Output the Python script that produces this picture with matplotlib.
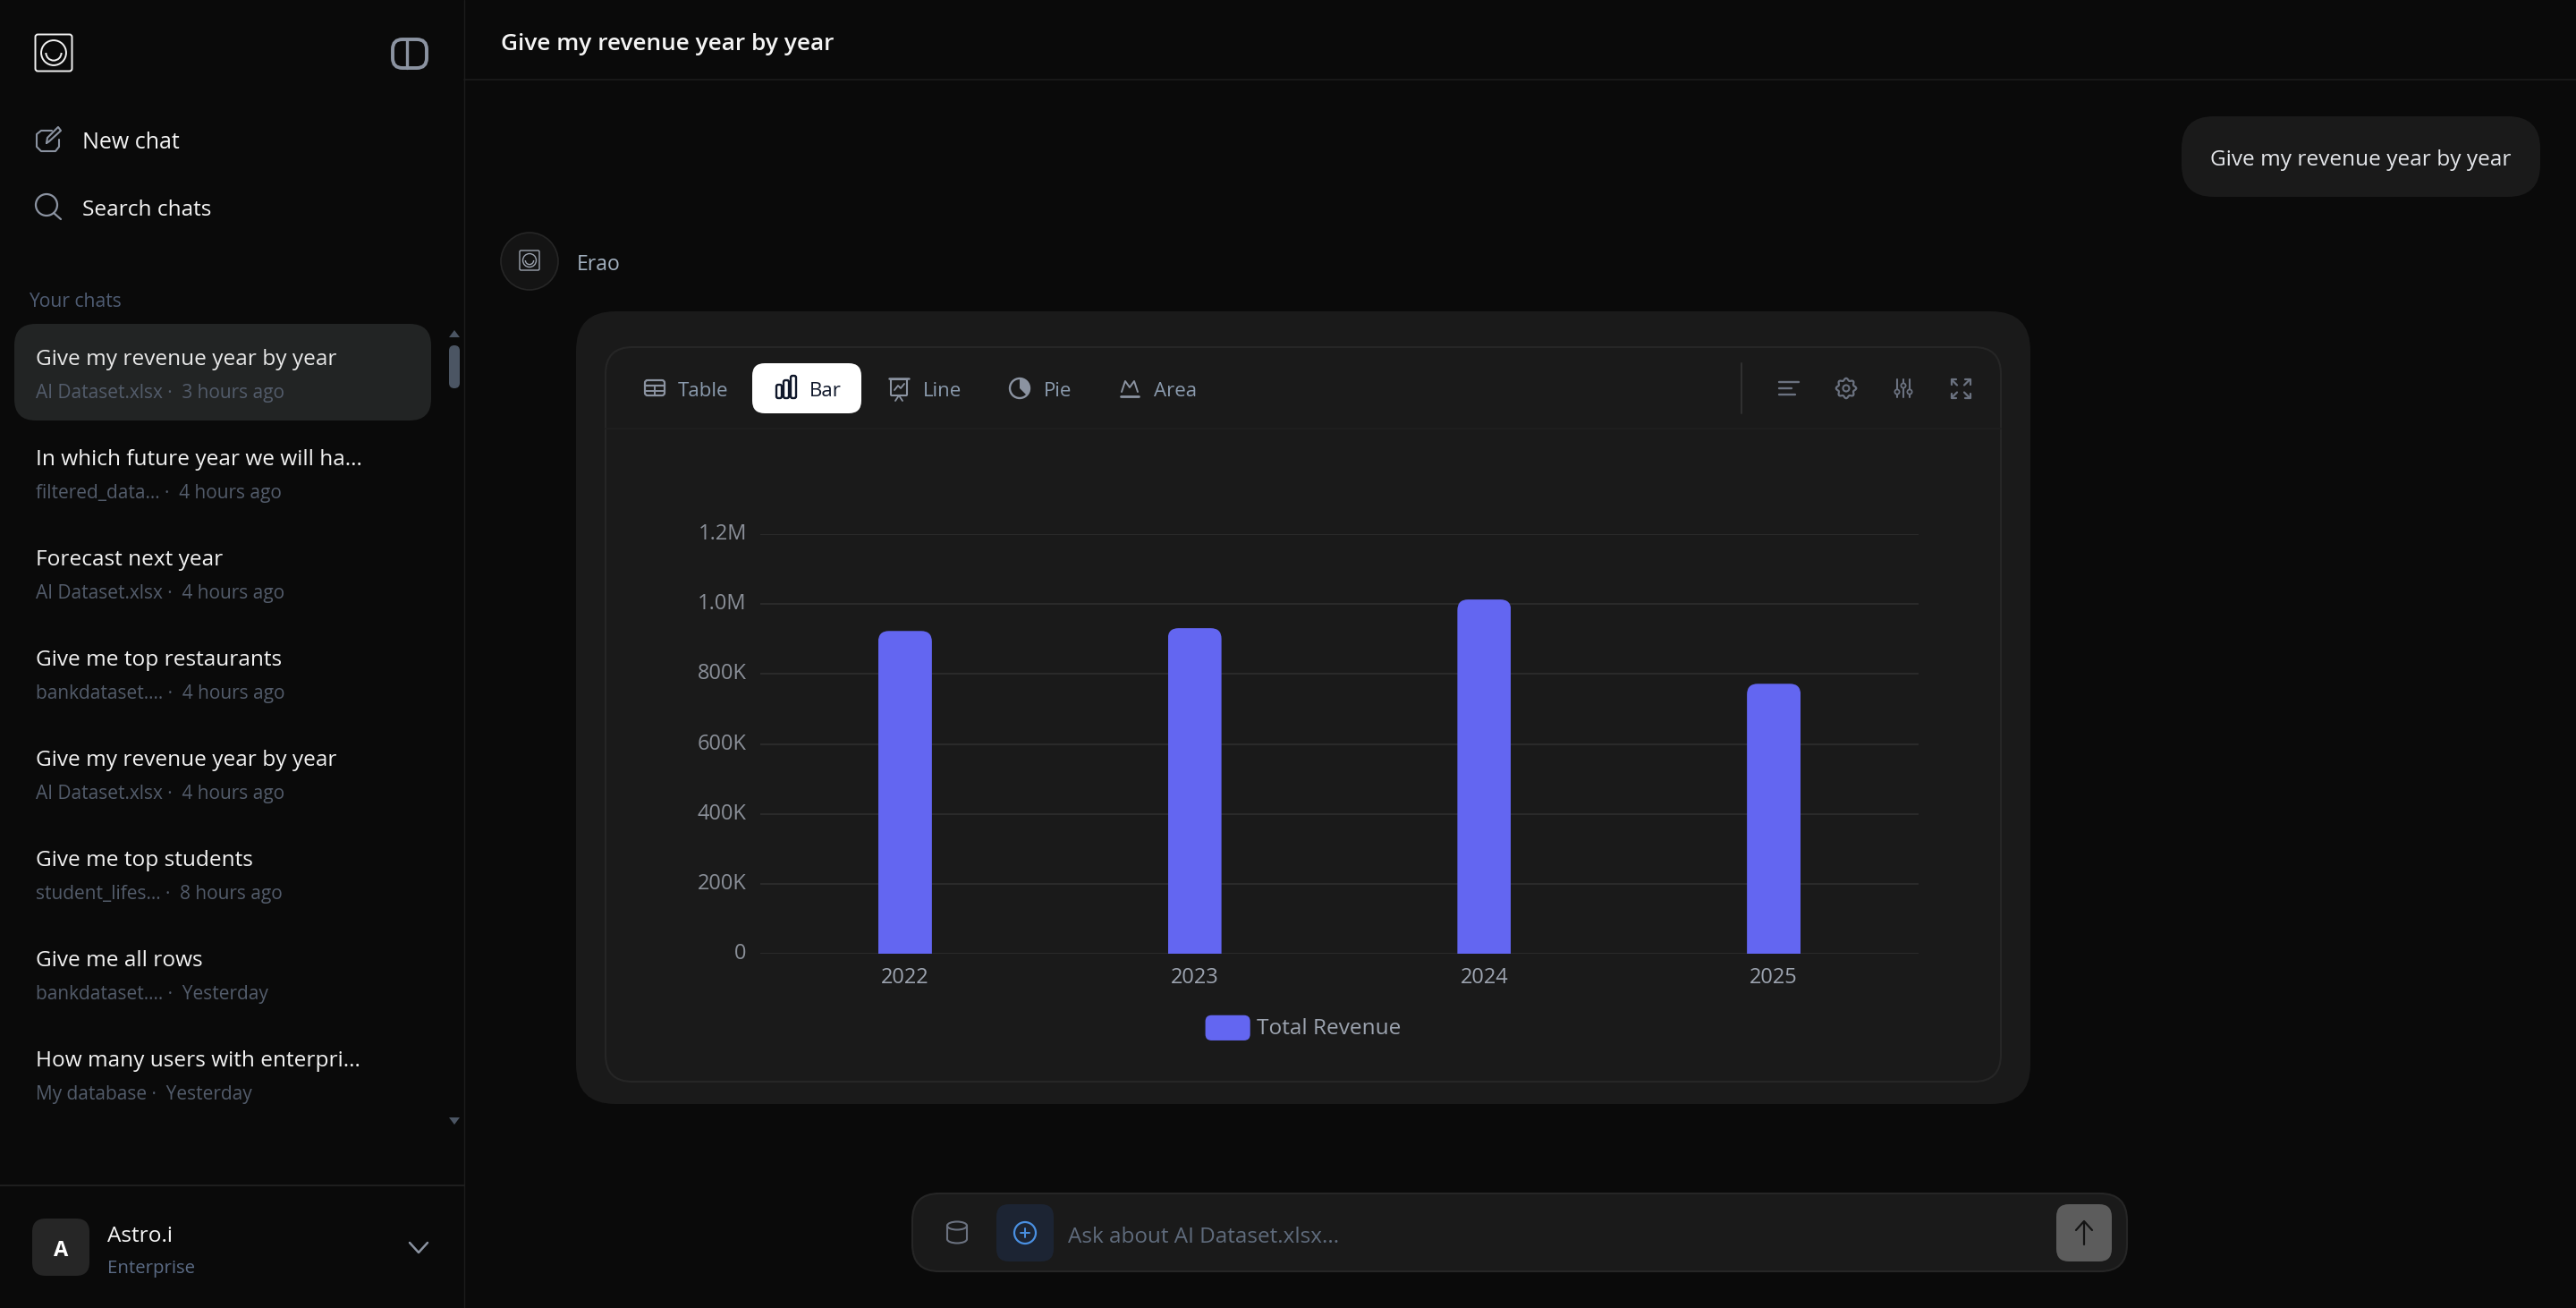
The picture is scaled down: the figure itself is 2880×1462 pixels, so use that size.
import numpy as np
import matplotlib
matplotlib.use("Agg")
import matplotlib.pyplot as plt
from matplotlib.patches import FancyBboxPatch, Circle, Arc, Wedge, Polygon, Patch, Ellipse
from matplotlib.legend_handler import HandlerPatch
from matplotlib.transforms import ScaledTranslation

plt.rcParams["font.family"] = ["Open Sans", "DejaVu Sans"]

# chart data
years = ["2022", "2023", "2024", "2025"]
revenue = [923000, 931000, 1013000, 772000]
y_ticks = [0, 200000, 400000, 600000, 800000, 1000000, 1200000]
y_labels = ["0", "200K", "400K", "600K", "800K", "1.0M", "1.2M"]
series_name = "Total Revenue"

# page text
chat_titles = ["Give my revenue year by year", "In which future year we will ha...", "Forecast next year",
               "Give me top restaurants", "Give my revenue year by year", "Give me top students",
               "Give me all rows", "How many users with enterpri..."]
chat_subs = ["AI Dataset.xlsx ·  3 hours ago", "filtered_data... ·  4 hours ago", "AI Dataset.xlsx ·  4 hours ago",
             "bankdataset.... ·  4 hours ago", "AI Dataset.xlsx ·  4 hours ago", "student_lifes... ·  8 hours ago",
             "bankdataset.... ·  Yesterday", "My database ·  Yesterday"]
tabs = ["Table", "Bar", "Line", "Pie", "Area"]
tab_text_x = [758, 905, 1032, 1167, 1290]

BG = "#0a0a0a"
CARD = "#1a1a1a"
LINE = "#262626"
BAR = "#6366f1"
ICON = "#8b93a1"
ICON2 = "#6b7280"

fig = plt.figure(figsize=(28.8, 14.62), dpi=100, facecolor=BG)
# page layer in pixels
pg = fig.add_axes([0, 0, 1, 1], zorder=1)
pg.set_xlim(0, 2880)
pg.set_ylim(1462, 0)
pg.axis("off")


def box(x0, y0, x1, y1, r, fc, ec="none", lw=0, z=1):
    p = FancyBboxPatch((x0 + r, y0 + r), x1 - x0 - 2 * r, y1 - y0 - 2 * r,
                       boxstyle=f"round,pad={r},rounding_size={r}", fc=fc, ec=ec, lw=lw, zorder=z)
    pg.add_patch(p)
    return p


def line(xs, ys, c=ICON, lw=2.0, z=5):
    pg.plot(xs, ys, color=c, lw=lw, solid_capstyle="round", solid_joinstyle="round", zorder=z)


def label(x, y, s, size, c, weight="normal", ha="left"):
    pg.text(x, y, s, fontsize=size, color=c, weight=weight, ha=ha, va="center_baseline", zorder=6)


def logo(cx, cy, half, c, lw):
    box(cx - half, cy - half, cx + half, cy + half, half * 0.14, "none", c, lw, 5)
    pg.add_patch(Circle((cx, cy), half * 0.68, fc="none", ec=c, lw=lw, zorder=5))
    pg.add_patch(Arc((cx, cy), half * 0.84, half * 0.84, theta1=0, theta2=180, ec=c, lw=lw, zorder=5))


# frame lines
line([519, 519], [0, 1462], "#1c1c1c", 1.0, 2)
line([519, 2880], [89, 89], "#1c1c1c", 1.2, 2)
line([0, 519], [1325, 1325], "#1f1f1f", 1.4, 2)

# sidebar top
logo(60, 59, 20.5, "#f2f2f2", 1.4)
box(439, 44, 477, 76, 11, "none", ICON, 2.8, 5)
line([455, 455], [44, 76], ICON, 2.4)

# new chat icon
line([58, 46, 41, 41, 46, 62, 66, 66], [146, 146, 150, 164, 169, 169, 164, 156], ICON, 1.5)
line([52, 53, 65, 68, 55, 52], [160, 154, 142, 146, 158, 160], ICON, 1.5)
# search icon
pg.add_patch(Circle((52, 229), 12, fc="none", ec=ICON, lw=1.6, zorder=5))
line([60, 68], [238, 245], ICON, 1.6)

label(92, 157, "New chat", 18, "#f5f5f5")
label(92, 232, "Search chats", 17.6, "#f5f5f5")
label(32, 335, "Your chats", 15.2, "#4f5c73")

# chat list
box(16, 362, 482, 470, 24, "#222424")
for i in range(len(chat_titles)):
    top = 399 + i * 112
    label(40, top, chat_titles[i], 17.6, "#e8e8e8" if i == 0 else "#f2f2f2")
    label(40, top + 38, chat_subs[i], 15.0, "#535c6b")

# scrollbar
box(502, 386, 514, 434, 6, "#4b5563")
pg.add_patch(Polygon([[502, 377], [514, 377], [508, 369]], fc="#4b5563", zorder=3))
pg.add_patch(Polygon([[502, 1249], [514, 1249], [508, 1257]], fc="#4b5563", zorder=3))

# account
box(36, 1362, 100, 1426, 15, "#262626")
label(68, 1395, "A", 17, "#ffffff", "bold", "center")
label(120, 1379, "Astro.i", 17.6, "#f5f5f5")
label(120, 1415, "Enterprise", 14.7, "#5b6b85")
line([458, 468, 478], [1389, 1400, 1389], ICON, 1.8)

# header and user bubble
label(560, 46, "Give my revenue year by year", 18.9, "#f5f5f5", "semibold")
box(2439, 130, 2840, 220, 36, CARD)
label(2639, 176, "Give my revenue year by year", 17.6, "#e5e7eb", ha="center")

# assistant row
pg.add_patch(Circle((592, 292), 32, fc="#141414", ec=LINE, lw=1.2, zorder=3))
logo(592, 291, 11, "#9ca3af", 1.0)
label(645, 293, "Erao", 16.6, "#a3b1c0")

# cards
box(644, 348, 2270, 1234, 44, CARD)
box(677, 388, 2237, 1209, 30, CARD, LINE, 1.5, 2)
line([677, 2237], [479, 479], "#1f1f1f", 1.2, 3)

# tabs
box(841, 406, 963, 462, 14, "#ffffff", z=3)
for i in range(len(tabs)):
    label(tab_text_x[i], 435, tabs[i], 16, "#0f172a" if tabs[i] == "Bar" else "#8b9bae")

# table icon
box(721, 425, 743, 442, 3, "none", ICON, 1.6, 5)
line([721, 743], [431, 431], ICON, 1.6)
line([721, 743], [436.5, 436.5], ICON, 1.4)
line([732, 732], [431, 442], ICON, 1.4)
# bar icon
box(868, 430, 874, 445, 2, "none", "#0f172a", 1.7, 5)
box(876, 425, 882, 445, 2, "none", "#0f172a", 1.7, 5)
box(884, 420, 890, 445, 2, "none", "#0f172a", 1.7, 5)
# line icon
line([994, 1016], [423, 423], ICON, 1.8)
box(996, 424, 1014, 442, 1, "none", ICON, 1.5, 5)
line([1000, 1004, 1007, 1011], [436, 431, 434, 429], ICON, 1.3)
line([1001, 1005, 1009], [448, 442, 448], ICON, 1.3)
# pie icon
pg.add_patch(Circle((1140, 434), 11, fc="none", ec=ICON, lw=1.7, zorder=5))
pg.add_patch(Wedge((1140, 434), 11, -90, 45, fc=ICON, ec="none", zorder=5))
# area icon
line([1254, 1258, 1263, 1268, 1272], [438, 426, 433, 426, 438], ICON, 1.4)
line([1253, 1273], [443, 443], ICON, 2.0)

# toolbar right
line([1947, 1947], [406, 462], "#333333", 1.3)
for y0, x1 in [(427, 2011), (434, 2003), (441, 2007)]:
    line([1989, x1], [y0, y0], ICON2, 1.7)
th = np.linspace(0, 2 * np.pi, 121)
rad = 10 + 1.2 * np.cos(8 * th)
line(2064 + rad * np.cos(th), 434 + rad * np.sin(th), ICON2, 1.6)
pg.add_patch(Circle((2064, 434), 3.5, fc="none", ec=ICON2, lw=1.5, zorder=5))
for x0, yc in [(2121, 438), (2128, 431), (2135, 438)]:
    line([x0, x0], [424, 444], ICON2, 1.5)
    pg.add_patch(Circle((x0, yc), 2.6, fc=CARD, ec=ICON2, lw=1.3, zorder=6))
for sx, sy in [(-1, -1), (1, -1), (-1, 1), (1, 1)]:
    cx, cy = 2192, 434.5
    line([cx + sx * 4, cx + sx * 10], [cy + sy * 4, cy + sy * 10], ICON2, 1.6)
    line([cx + sx * 5, cx + sx * 10.5, cx + sx * 10.5], [cy + sy * 10.5, cy + sy * 10.5, cy + sy * 5], ICON2, 1.6)

# input bar
box(1020, 1334, 2378, 1421, 30, CARD, LINE, 1.5, 2)
box(1114, 1346, 1178, 1410, 14, "#1c2433", z=3)
pg.add_patch(Circle((1146, 1378), 12, fc="none", ec="#4a90e2", lw=1.6, zorder=5))
line([1141, 1151], [1378, 1378], "#4a90e2", 1.4)
line([1146, 1146], [1373, 1383], "#4a90e2", 1.4)
pg.add_patch(Ellipse((1070, 1370), 22, 9, fc="none", ec=ICON2, lw=1.5, zorder=5))
pg.add_patch(Arc((1070, 1385), 22, 9, theta1=0, theta2=180, ec=ICON2, lw=1.5, zorder=5))
line([1059, 1059], [1370, 1385], ICON2, 1.5)
line([1081, 1081], [1370, 1385], ICON2, 1.5)
label(1194, 1380, "Ask about AI Dataset.xlsx...", 17.5, "#5f6b7c")
box(2299, 1346, 2361, 1410, 14, "#5c5c5c", z=3)
line([2330, 2330], [1366, 1391], "#141414", 1.6)
line([2321, 2330, 2339], [1375, 1365, 1375], "#141414", 1.6)

# chart, placed so the axis spans the plot region
L, R, T, B = 850, 2145, 597, 1066
ax = fig.add_axes([L / 2880, 1 - B / 1462, (R - L) / 2880, (B - T) / 1462], zorder=2)
ax.patch.set_alpha(0)
x = np.arange(len(years))
bars = ax.bar(x, revenue, width=60 / ((R - L) / 4), color=BAR, zorder=3)
ax.set_xlim(-0.5, 3.5)
ax.set_ylim(0, 1200000)
ax.set_xticks(x)
ax.set_xticklabels(years, fontsize=17, color="#9ca3af")
ax.set_yticks(y_ticks)
ax.set_yticklabels(y_labels, fontsize=17, color="#8a8f98")
ax.tick_params(axis="both", length=0)
ax.tick_params(axis="x", pad=11)
ax.tick_params(axis="y", pad=11)
ax.grid(axis="y", color="#2a2a2a", lw=1.5, zorder=1)
for s in ax.spines.values():
    s.set_visible(False)
# tick labels sit slightly above their gridlines
up = ScaledTranslation(0, 3 / 100, fig.dpi_scale_trans)
for t in ax.get_yticklabels():
    t.set_transform(t.get_transform() + up)

# rounded bar tops: clip each bar to a rounded box at its own pixel extent
for b in bars:
    x0 = L + (b.get_x() + 0.5) / 4 * (R - L)
    w = b.get_width() / 4 * (R - L)
    top = B - b.get_height() / 1200000 * (B - T)
    clip = FancyBboxPatch((x0 + 12, top + 12), w - 24, B - top + 10, boxstyle="round,pad=12,rounding_size=12",
                          transform=pg.transData, fc="none", ec="none")
    b.set_clip_path(clip)


class RoundHandler(HandlerPatch):
    def create_artists(self, legend, orig, xd, yd, width, height, fontsize, trans):
        r = 5
        p = FancyBboxPatch((r, r - 5), width - 2 * r, height + 8 - 2 * r, boxstyle=f"round,pad={r},rounding_size={r}",
                           fc=BAR, ec="none", transform=trans)
        return [p]


h = Patch(fc=BAR, label=series_name)
leg = ax.legend(handles=[h], loc="center", bbox_to_anchor=((1457 - L) / (R - L), (B - 1150) / (B - T)), frameon=False,
                fontsize=17.6, labelcolor="#9ca3af", handlelength=2.05, handleheight=0.7, handletextpad=0.3,
                handler_map={Patch: RoundHandler()})

fig.savefig("out.png", dpi=100, facecolor=BG)
